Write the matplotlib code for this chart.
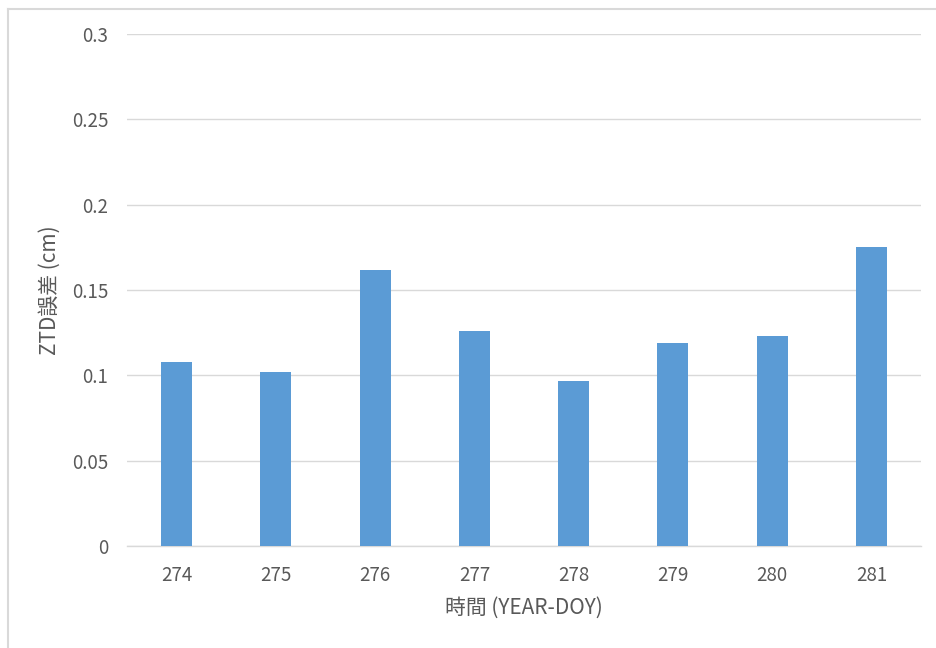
import matplotlib
matplotlib.use("Agg")
import matplotlib.pyplot as plt
from matplotlib.lines import Line2D

# ZTD error per day of year
days = ["274", "275", "276", "277", "278", "279", "280", "281"]
ztd_error = [0.108, 0.102, 0.162, 0.126, 0.0967, 0.119, 0.123, 0.175]

y_ticks = [0, 0.05, 0.1, 0.15, 0.2, 0.25, 0.3]
y_tick_labels = ["0", "0.05", "0.1", "0.15", "0.2", "0.25", "0.3"]

plt.rcParams["font.family"] = ["Noto Sans CJK TC", "DejaVu Sans"]

fig = plt.figure(figsize=(9.37, 6.48), dpi=100)
ax = fig.add_axes([127 / 937, 1 - 546 / 648, (921 - 127) / 937, (546 - 34) / 648])

x = list(range(len(days)))
ax.bar(x, ztd_error, width=0.31, color="#5B9BD5", zorder=3)

ax.set_xlim(-0.5, len(days) - 0.5)
ax.set_ylim(0, 0.3)
ax.set_yticks(y_ticks)
ax.set_yticklabels(y_tick_labels)
ax.set_xticks(x)
ax.set_xticklabels(days)

ax.grid(axis="y", color="#D9D9D9", linewidth=1.0, zorder=0)
for side in ("top", "right", "left"):
    ax.spines[side].set_visible(False)
ax.spines["bottom"].set_color("#D9D9D9")
ax.spines["bottom"].set_linewidth(1.0)
ax.tick_params(axis="both", length=0, labelsize=13.5, colors="#595959")
ax.tick_params(axis="y", pad=13.5)
ax.tick_params(axis="x", pad=13.5)

ax.set_xlabel("時間 (YEAR-DOY)", fontsize=15, color="#595959")
ax.xaxis.set_label_coords(0.5, -(608 - 546) / 512, transform=ax.transAxes)
ax.xaxis.label.set_va("center")
ax.set_ylabel("ZTD誤差 (cm)", fontsize=15, color="#595959")
ax.yaxis.set_label_coords((50 - 127) / 794, (546 - 290) / 512, transform=ax.transAxes)
ax.yaxis.label.set_va("center")

# light frame along the top and left edges
fig.add_artist(Line2D([8 / 937, 8 / 937], [0, 1 - 8.5 / 648], transform=fig.transFigure,
                      color="#D9D9D9", linewidth=1.5))
fig.add_artist(Line2D([8 / 937, 1], [1 - 8.5 / 648, 1 - 8.5 / 648], transform=fig.transFigure,
                      color="#D9D9D9", linewidth=1.5))

fig.savefig("out.png", dpi=100, facecolor="white")
